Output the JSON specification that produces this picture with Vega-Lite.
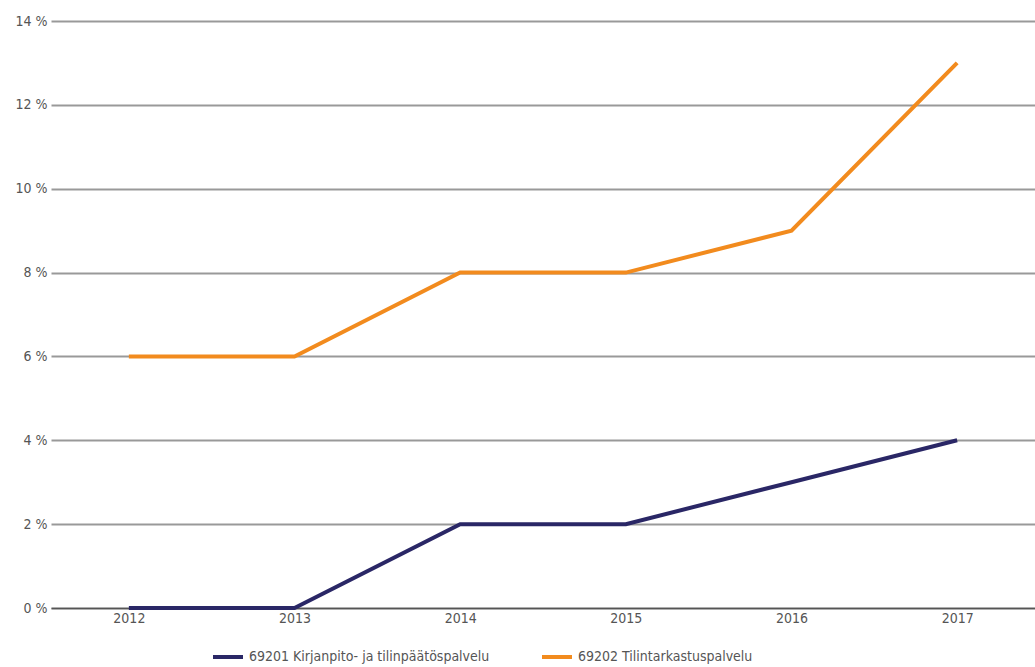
{
  "$schema": "https://vega.github.io/schema/vega-lite/v6.json",
  "width": 1035,
  "height": 667,
  "autosize": {"type": "fit", "contains": "padding"},
  "padding": {"top": 14, "left": 15, "right": 0, "bottom": 42},
  "background": "white",
  "config": {
    "view": {"stroke": null},
    "font": "DejaVu Sans Condensed, sans-serif"
  },
  "data": {
    "values": [
      {"year": "2012", "series": "69201  Kirjanpito- ja tilinpäätöspalvelu", "value": 0},
      {"year": "2013", "series": "69201  Kirjanpito- ja tilinpäätöspalvelu", "value": 0},
      {"year": "2014", "series": "69201  Kirjanpito- ja tilinpäätöspalvelu", "value": 2},
      {"year": "2015", "series": "69201  Kirjanpito- ja tilinpäätöspalvelu", "value": 2},
      {"year": "2016", "series": "69201  Kirjanpito- ja tilinpäätöspalvelu", "value": 3},
      {"year": "2017", "series": "69201  Kirjanpito- ja tilinpäätöspalvelu", "value": 4},
      {"year": "2012", "series": "69202  Tilintarkastuspalvelu", "value": 6},
      {"year": "2013", "series": "69202  Tilintarkastuspalvelu", "value": 6},
      {"year": "2014", "series": "69202  Tilintarkastuspalvelu", "value": 8},
      {"year": "2015", "series": "69202  Tilintarkastuspalvelu", "value": 8},
      {"year": "2016", "series": "69202  Tilintarkastuspalvelu", "value": 9},
      {"year": "2017", "series": "69202  Tilintarkastuspalvelu", "value": 13}
    ]
  },
  "mark": {"type": "line", "strokeWidth": 4, "strokeCap": "butt", "strokeJoin": "miter"},
  "encoding": {
    "x": {
      "field": "year",
      "type": "ordinal",
      "scale": {"type": "point", "padding": 0.47},
      "axis": {
        "title": null,
        "labelAngle": 0,
        "ticks": false,
        "domain": true,
        "domainColor": "#555555",
        "domainWidth": 1.5,
        "grid": false,
        "labelColor": "#555555",
        "labelFontSize": 14,
        "labelPadding": 3
      }
    },
    "y": {
      "field": "value",
      "type": "quantitative",
      "scale": {"domain": [0, 14], "nice": false},
      "axis": {
        "title": null,
        "values": [0, 2, 4, 6, 8, 10, 12, 14],
        "labelExpr": "datum.value + ' %'",
        "ticks": false,
        "domain": false,
        "grid": true,
        "gridColor": "#999999",
        "gridWidth": 2,
        "labelColor": "#555555",
        "labelFontSize": 14,
        "labelPadding": 4
      }
    },
    "color": {
      "field": "series",
      "type": "nominal",
      "scale": {"range": ["#2a2766", "#f28b1e"]},
      "legend": {
        "title": null,
        "orient": "none",
        "legendX": 160,
        "legendY": 619,
        "direction": "horizontal",
        "symbolType": "stroke",
        "symbolSize": 900,
        "symbolStrokeWidth": 4,
        "labelFontSize": 14,
        "labelColor": "#555555",
        "columnPadding": 40,
        "labelLimit": 400
      }
    }
  }
}
